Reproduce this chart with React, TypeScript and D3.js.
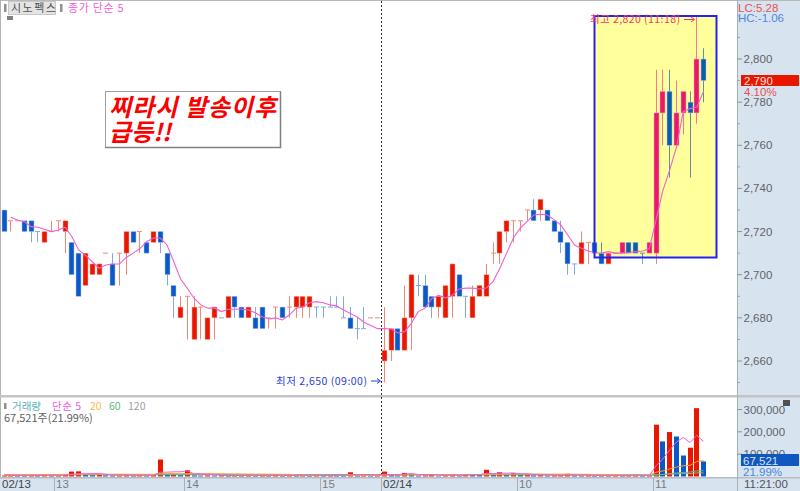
import React from 'react';
import * as d3 from 'd3';

const W = 800, H = 491;
const KR = '"Noto Sans CJK KR", sans-serif';
const LAT = '"Liberation Sans", sans-serif';

const opens = [2730,2725,2725,2725,2725,2720,2715,2720,2725,2720,2715,2710,2695,2700,2700,2710,2705,2710,2710,2720,2720,2715,2715,2720,2710,2695,2680,2690,2670,2685,2670,2680,2680,2680,2690,2685,2680,2680,2685,2680,2685,2685,2685,2685,2685,2685,2685,2685,2685,2685,2680,2680,2675,2675,2680,2680,2660,2665,2675,2665,2680,2695,2695,2690,2685,2680,2690,2700,2690,2680,2690,2690,2710,2710,2720,2725,2725,2730,2730,2730,2730,2725,2720,2715,2705,2705,2715,2715,2710,2705,2710,2710,2715,2715,2710,2710,2710,2775,2785,2760,2775,2780,2775,2800];
const highs = [2730,2725,2725,2725,2725,2720,2720,2725,2725,2725,2715,2710,2710,2705,2705,2710,2710,2710,2720,2720,2720,2715,2720,2720,2710,2695,2690,2690,2690,2685,2680,2685,2680,2690,2690,2685,2685,2685,2685,2680,2685,2685,2690,2690,2690,2690,2685,2685,2690,2690,2690,2685,2680,2685,2680,2680,2685,2675,2675,2695,2700,2700,2700,2690,2690,2695,2705,2700,2690,2695,2695,2705,2715,2720,2725,2725,2725,2730,2735,2735,2730,2725,2725,2715,2705,2720,2715,2715,2715,2710,2710,2715,2715,2715,2710,2715,2795,2795,2795,2790,2785,2785,2820,2805];
const lows = [2720,2720,2725,2720,2715,2715,2715,2720,2720,2710,2700,2690,2695,2700,2700,2710,2695,2695,2700,2715,2710,2710,2715,2710,2695,2680,2680,2670,2670,2670,2670,2670,2680,2680,2680,2680,2680,2675,2675,2675,2675,2680,2680,2680,2680,2680,2680,2680,2685,2685,2680,2675,2670,2675,2680,2680,2650,2660,2665,2665,2665,2690,2685,2680,2680,2680,2680,2690,2680,2680,2690,2690,2705,2705,2715,2715,2720,2725,2725,2725,2725,2720,2710,2700,2700,2705,2705,2710,2705,2705,2710,2710,2710,2710,2705,2710,2705,2760,2745,2760,2765,2745,2770,2780];
const closes = [2720,2725,2725,2720,2720,2720,2720,2720,2725,2725,2700,2690,2710,2705,2705,2710,2695,2710,2720,2715,2720,2710,2720,2715,2700,2690,2685,2690,2685,2685,2680,2685,2680,2690,2685,2680,2685,2675,2675,2680,2685,2680,2685,2690,2690,2690,2685,2685,2685,2685,2680,2675,2675,2675,2680,2680,2665,2675,2665,2680,2700,2695,2685,2685,2690,2695,2705,2690,2690,2690,2695,2700,2710,2720,2725,2725,2725,2730,2725,2735,2725,2720,2715,2705,2705,2715,2715,2710,2705,2710,2710,2715,2710,2710,2710,2715,2775,2785,2760,2775,2785,2775,2800,2790];
const candleDirs = 'brrbbbrrrrbbrrrrbrrbrbrbbbrrrrrrbrbbrbbrrbrrrrbbbbbbbbrrrrbrrbbbrrrbbrrrrrrrrrbrbbbbbrrbbrrrbbbrrrbrrbrb';
const priceMa5 = [null,2726.6,2725.4,2724.5,2722.3,2722,2721,2720,2720.7,2722,2717.6,2711.5,2709,2706,2703,2704.5,2705,2705,2708,2710,2712,2715.3,2717,2717,2713.8,2706,2698,2693.6,2689,2686,2684.5,2684.5,2682.9,2684,2684,2684,2683.7,2682.4,2680.5,2679.5,2680,2679,2681.3,2684.5,2685,2687,2687.5,2687,2686,2685.5,2683.6,2682,2680.4,2678,2676.5,2675,2675,2674.8,2673,2673.6,2677.6,2682.9,2684.5,2689,2690.4,2689.3,2690.4,2693.4,2693.8,2693.8,2693.4,2693.8,2696.8,2703,2710,2717,2721.6,2724.6,2727.7,2728,2727.7,2725.4,2723,2718.4,2713.8,2712.3,2711,2710.2,2710,2710.7,2710,2710,2710.3,2710.7,2711,2712,2725.4,2739,2748.5,2759,2775.6,2777,2777.7,2785];

const volumes = [4000,5000,4500,3500,5000,4000,5500,4000,5000,9000,22000,23000,9000,6000,7000,5000,4000,5000,6000,4000,5000,4000,6000,76000,7000,12000,6000,28000,5000,4000,5000,4000,5000,3000,5000,4000,6000,3000,5000,4000,6000,4000,5000,3000,4000,3000,5000,4000,6000,5000,4000,19000,4000,5000,3000,4000,22000,8000,5000,16000,12000,4000,5000,7000,2000,5000,11000,4000,10000,9000,8000,30000,9000,19000,9000,15000,8000,9000,5000,6000,4000,5000,6000,12000,5000,4000,5000,4000,3000,4000,5000,3000,4000,5000,4000,4500,232000,157000,199000,179000,94000,129000,306000,67521];
const volMa5 = [4500,4600,4500,4400,4400,4500,4600,4500,4600,5500,9000,12500,12500,13000,13000,10000,6000,5500,5400,4800,4800,4800,5000,19000,19500,21000,21000,26000,11000,11000,9600,8400,4800,4300,4600,4200,4600,4200,4600,4200,4600,4400,4800,4400,4400,4000,4000,3800,4400,4600,4800,7600,7600,7400,7000,7000,10000,8400,8400,11000,13000,9000,8400,8800,6000,5000,5800,5800,6400,7600,8400,14000,13000,15000,15000,16000,12000,12000,9000,8000,6800,5600,5200,6600,6400,6400,6200,5000,4400,4000,4000,3800,3800,3900,4000,4000,48000,79000,118000,154000,175000,152000,184000,157000];
const volMa20 = [9000,9000,9000,9000,9000,9000,9000,9000,9000,9200,9600,10000,10000,10000,10200,10200,10200,10200,10200,10200,9800,9800,9800,13000,13000,13000,12500,13500,13000,13000,12800,12600,12200,11800,11500,11200,10800,10600,10500,10200,10000,9800,9800,7000,6800,6500,6200,5500,5400,5200,5000,5600,5400,5200,5200,5200,6000,6300,6300,6700,7000,7000,7000,7300,7100,7200,7500,7500,7800,8000,8200,9400,9600,10400,10600,11000,11200,11400,11300,10900,10600,10500,10400,10500,10200,10000,9600,9200,9000,8700,8500,7400,7000,6700,6300,5800,19000,25000,34000,42000,48000,50000,67000,72000];
const volMa60 = [8500,8500,8500,8500,8500,8500,8500,8500,8500,8500,8500,8500,8500,8500,8500,8600,8600,8600,8600,8600,8600,8600,8600,8700,8700,8700,8700,8800,8800,8800,8800,8800,8800,8800,8800,8800,8800,8800,8800,8800,8800,8800,8800,8800,8800,8800,8800,8800,8800,8800,8700,8700,8700,8700,8600,8600,8600,8500,8500,8500,8500,8300,8200,8100,8000,8000,8000,7800,7800,7800,7800,8000,8000,8100,8100,8200,8200,8200,8100,8000,8000,8000,8000,8000,7900,7800,7800,7700,7700,7600,7600,7500,7500,7400,7400,6000,6000,9000,13000,16000,18000,20000,25000,26000];
const volMa120 = [8000,8000,8000,8000,8000,8000,8000,8000,8000,8000,8000,8000,8000,8000,8000,8000,8000,8000,8000,8000,8000,8000,8000,8000,8000,8000,8000,8000,8000,8000,8000,8000,8000,8000,8000,8000,8000,8000,8000,8000,8000,8000,8000,8000,8000,8000,8000,8000,8000,8000,8000,8000,7800,7800,7800,7800,7800,7700,7700,7700,7700,7700,7600,7600,7600,7500,7500,7500,7500,7400,7400,7400,7400,7400,7400,7400,7400,7400,7400,7300,7300,7300,7300,7300,7300,7200,7200,7200,7200,7200,7100,7100,7100,7100,7000,7000,8000,9000,10500,12000,12800,13500,16000,16500];

const priceLabels = [2660,2680,2700,2720,2740,2760,2780,2800];
const priceMinor = [2650,2670,2690,2710,2730,2750,2770,2790,2810,2820];
const volLabels = [100000,200000,300000];
const sessionTicks = [
  { label: '02/13', x: 2, sep: 0, strong: true },
  { label: '13', x: 56, sep: 54, strong: false },
  { label: '14', x: 186, sep: 184, strong: false },
  { label: '15', x: 322, sep: 320, strong: false },
  { label: '02/14', x: 383, sep: 381, strong: true },
  { label: '10', x: 519, sep: 517, strong: false },
  { label: '11', x: 655, sep: 653, strong: false },
];
const volumeLegend = [
  { t: '거래량', x: 12, c: '#58b4bc', ls: 0 },
  { t: '단순 5', x: 52, c: '#f060d8', ls: 0.5 },
  { t: '20', x: 90, c: '#f4b84c', ls: 0 },
  { t: '60', x: 109, c: '#58bc80', ls: 0 },
  { t: '120', x: 128, c: '#a0a0a0', ls: 0 },
];

const x = d3.scaleLinear().domain([0, 103]).range([4, 703.6]);
const y = d3.scaleLinear().domain([2660, 2800]).range([361, 59]);
const yVol = d3.scaleLinear().domain([0, 300000]).range([476.5, 409.5]);
const fmt = d3.format(',');

const BOX = { x: 594.5, y: 16, w: 122, h: 241.5 };
const AXIS_X = 737;

const maLine = d3.line<number | null>()
  .defined(d => d !== null)
  .x((_, i) => x(i))
  .y(d => y(d as number));
const volLine = d3.line<number>().x((_, i) => x(i)).y(d => yVol(d));

function Candles({ bodyRed, bodyBlue, wickRed, wickBlue }: { bodyRed: string; bodyBlue: string; wickRed: string; wickBlue: string }) {
  return (
    <g>
      {opens.map((o, i) => {
        const c = closes[i];
        const up = candleDirs[i] === 'r';
        const cx = Math.round(x(i) - 0.5) + 0.5;
        const top = y(Math.max(o, c));
        const bot = y(Math.min(o, c));
        return (
          <g key={i}>
            <line x1={cx} x2={cx} y1={y(highs[i])} y2={y(lows[i])} stroke={up ? wickRed : wickBlue} strokeWidth={1} />
            {o === c
              ? <line x1={cx - 2.5} x2={cx + 2.5} y1={top} y2={top} stroke={up ? wickRed : wickBlue} strokeWidth={1} />
              : <rect x={cx - 2.5} y={top} width={5} height={bot - top} fill={up ? bodyRed : bodyBlue} stroke={up ? '#f8b0a8' : '#a8c4ec'} strokeWidth={0.5} />}
          </g>
        );
      })}
    </g>
  );
}

export default function App() {
  return (
    <svg width={W} height={H} viewBox={`0 0 ${W} ${H}`} style={{ position: 'absolute', left: 0, top: 0, display: 'block' }}>
      <defs>
        <clipPath id="boxClip"><rect x={BOX.x} y={BOX.y} width={BOX.w} height={BOX.h} /></clipPath>
      </defs>
      <rect width={W} height={H} fill="#ffffff" />

      {/* right axis and bottom strip */}
      <rect x={AXIS_X} y={0} width={W - AXIS_X} height={H} fill="#d8e3f0" />
      <rect x={0} y={478} width={W} height={13} fill="#d8e3f0" />
      <rect x={0} y={0} width={W} height={1} fill="#b8b8b8" />
      <rect x={0} y={0} width={1} height={478} fill="#b4b4b4" />
      <rect x={0} y={395} width={W} height={2.5} fill="#c4c4c4" />
      <rect x={0} y={477} width={W} height={1.5} fill="#b8bcc0" />
      <rect x={AXIS_X} y={0} width={1} height={H} fill="#a8b0b8" />

      <Candles bodyRed="#e81800" bodyBlue="#0c58c8" wickRed="#f08878" wickBlue="#80a8e4" />

      <rect x={BOX.x} y={BOX.y} width={BOX.w} height={BOX.h} fill="#ffff9c" />
      <g clipPath="url(#boxClip)">
        <Candles bodyRed="#e8186c" bodyBlue="#0c5cac" wickRed="#f07898" wickBlue="#5c90a0" />
      </g>

      <path d={maLine(priceMa5 as (number | null)[]) as string} fill="none" stroke="#f060d0" strokeWidth={1.1} />

      <rect x={BOX.x} y={BOX.y} width={BOX.w} height={BOX.h} fill="none" stroke="#2424f0" strokeWidth={2} />

      <line x1={381.5} x2={381.5} y1={1} y2={477} stroke="#303030" strokeWidth={1} strokeDasharray="2 2" />

      {/* high / low annotations */}
      <text x={590} y={22.5} fontFamily={KR} fontSize={10.5} fill="#f0386c" textLength={90} lengthAdjust="spacing">최고 2,820 (11:18)</text>
      <path d="M684 19.5 H694 M691 17 L694.5 19.5 L691 22" fill="none" stroke="#f0386c" strokeWidth={1} />
      <text x={276} y={384.5} fontFamily={KR} fontSize={10.5} fill="#2840e0" textLength={91} lengthAdjust="spacing">최저 2,650 (09:00)</text>
      <path d="M371 381 H380 M377 378.5 L380.5 381 L377 383.5" fill="none" stroke="#2840e0" strokeWidth={1} />

      {/* callout */}
      <rect x={105.5} y={91.5} width={175} height={56} fill="#ffffff" stroke="#a0a0a0" strokeWidth={1} />
      <path d="M280.5 91.5 V147.5 H105.5" fill="none" stroke="#808080" strokeWidth={1.5} />
      <text x={109} y={116} fontFamily={KR} fontSize={24} fontWeight={700} fontStyle="italic" fill="#fa0000" letterSpacing={1}>찌라시 발송이후</text>
      <text x={109} y={141} fontFamily={KR} fontSize={24} fontWeight={700} fontStyle="italic" fill="#fa0000">급등!!</text>

      {/* header */}
      <rect x={4} y={4} width={2.5} height={8} fill="#909090" />
      <rect x={8.5} y={1.5} width={47} height={13} fill="#e4e4e4" stroke="#c8c8c8" />
      <text x={11} y={12} fontFamily={KR} fontSize={11} fill="#505050" letterSpacing={1.5}>시노펙스</text>
      <rect x={60} y={4} width={2.5} height={8} fill="#909090" />
      <text x={68} y={12} fontFamily={KR} fontSize={11} fill="#f060d8" letterSpacing={0.7}>종가 단순 5</text>
      <rect x={7} y={16} width={6} height={4} fill="#808080" />

      {/* right price axis */}
      {priceLabels.map(p => (
        <g key={p}>
          <line x1={AXIS_X} x2={742} y1={y(p)} y2={y(p)} stroke="#8a949e" />
          <text x={743.5} y={y(p) + 4} fontFamily={LAT} fontSize={11.5} fill="#606468">{fmt(p)}</text>
        </g>
      ))}
      {priceMinor.map(p => (
        <line key={p} x1={AXIS_X} x2={740} y1={y(p)} y2={y(p)} stroke="#9aa4ae" />
      ))}
      <text x={738} y={12} fontFamily={LAT} fontSize={11.5} fill="#e85050">LC:5.28</text>
      <text x={738} y={22} fontFamily={LAT} fontSize={11.5} fill="#4c88e0">HC:-1.06</text>
      <rect x={741} y={75} width={58} height={11} fill="#e81800" />
      <text x={744} y={85} fontFamily={LAT} fontSize={11.5} fill="#f4e4e0">2,790</text>
      <text x={744} y={95.5} fontFamily={LAT} fontSize={11.5} fill="#e85050">4.10%</text>

      {/* volume bars */}
      {volumes.map((v, i) => {
        const up = i === 0 || v >= volumes[i - 1];
        return (
          <rect key={i} x={Math.round(x(i) - 0.5) - 2} y={yVol(v)} width={5} height={476.5 - yVol(v)} fill={up ? '#e81800' : '#0c58c8'} />
        );
      })}
      <path d={volLine(volMa120) as string} fill="none" stroke="#a0a0a0" strokeWidth={1} />
      <path d={volLine(volMa60) as string} fill="none" stroke="#58bc80" strokeWidth={1} />
      <path d={volLine(volMa20) as string} fill="none" stroke="#f4a030" strokeWidth={1} />
      <path d={volLine(volMa5) as string} fill="none" stroke="#f060d8" strokeWidth={1} />

      {/* volume legend */}
      <rect x={4} y={403} width={2.5} height={6} fill="#909090" />
      {volumeLegend.map(l => (
        <text key={l.t} x={l.x} y={410} fontFamily={KR} fontSize={10.5} fill={l.c} letterSpacing={l.ls}>{l.t}</text>
      ))}
      <text x={4} y={422} fontFamily={KR} fontSize={11} fill="#606060">67,521주(21.99%)</text>

      {/* volume axis */}
      {volLabels.map(v => (
        <g key={v}>
          <line x1={AXIS_X} x2={742} y1={yVol(v)} y2={yVol(v)} stroke="#8a949e" />
          <text x={743.5} y={yVol(v) + 4} fontFamily={LAT} fontSize={11.5} fill="#606468">{fmt(v)}</text>
        </g>
      ))}
      <rect x={783} y={400} width={7} height={6} fill="#505050" />
      <rect x={741} y={454} width={58} height={12} fill="#1058c0" />
      <text x={743} y={464.5} fontFamily={LAT} fontSize={11.5} fill="#d8e4f4">67,521</text>
      <text x={743} y={475.5} fontFamily={LAT} fontSize={11.5} fill="#4c88e0">21.99%</text>

      {/* time axis */}
      {sessionTicks.map(t => (
        <g key={t.label}>
          {t.sep > 0 && <line x1={t.sep + 0.5} x2={t.sep + 0.5} y1={478} y2={491} stroke="#a8b0b8" />}
          <text x={t.x} y={488} fontFamily={LAT} fontSize={11.5} fill={t.strong ? '#404448' : '#787c80'}>{t.label}</text>
        </g>
      ))}
      <line x1={AXIS_X + 0.5} x2={AXIS_X + 0.5} y1={478} y2={491} stroke="#a8b0b8" />
      <text x={744} y={488} fontFamily={LAT} fontSize={11.5} fill="#505458">11:21:00</text>
    </svg>
  );
}
